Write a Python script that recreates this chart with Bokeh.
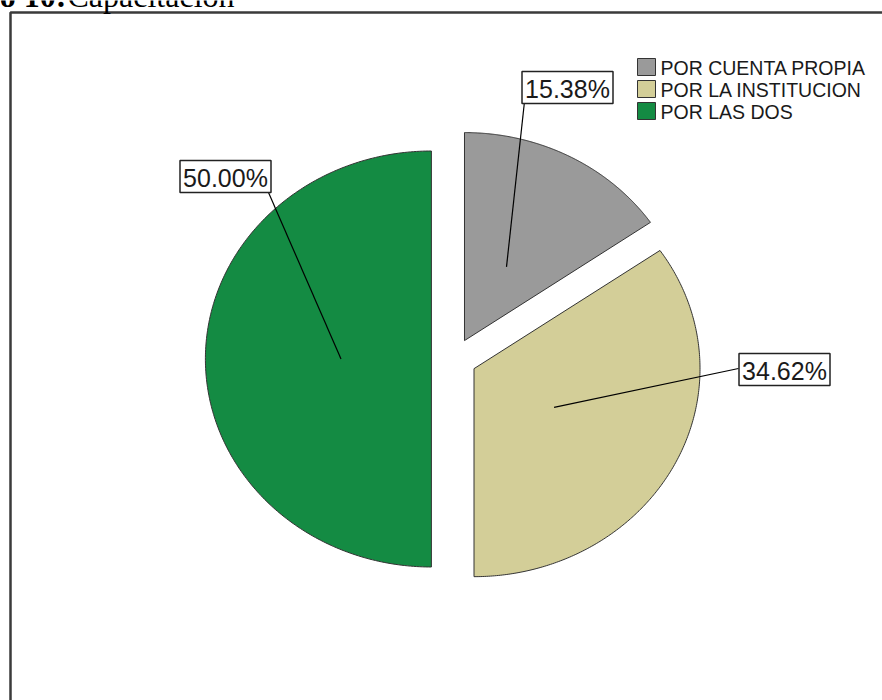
import numpy as np
from bokeh.plotting import figure
from bokeh.models import Range1d, ColumnDataSource
from bokeh.core.properties import value
from bokeh.embed import file_html
from bokeh.resources import INLINE

# ---- data ----
categories = ["POR CUENTA PROPIA", "POR LA INSTITUCION", "POR LAS DOS"]
percentages = [15.38, 34.62, 50.00]
colors = ["#9a9a9a", "#d3ce98", "#148b43"]
title_bold = "Gráfico 10:"
title_text = "Capacitación"

# ---- layout constants (pixel space) ----
W, H = 882, 700
CX, CY = 453.5, 358.5          # pie centre
RX, RY = 226, 208              # pie radii (image is slightly stretched)
EXPLODE = 0.10                 # explode offset as fraction of radius
ANCHOR = 0.40                  # label-line anchor as fraction of radius
BOX_W, BOX_H = 91, 32
box_centers = [(567, 87), (784, 369), (225, 176)]
line_starts = [(524, 101), (738, 368), (268, 192)]

p = figure(width=W, height=H, x_range=Range1d(0, W), y_range=Range1d(H, 0),
           output_backend="svg", toolbar_location=None, min_border=0,
           x_axis_location=None, y_axis_location=None,
           outline_line_color=None, background_fill_color="white")
p.grid.visible = False

# frame
p.line(x=[10, 10, W], y=[H, 12, 12], line_color="#3a3a3a", line_width=2.5)

# title (cut off at the top, as in the source)
TY = -5
p.text(x=[66], y=[TY], text=[title_bold], text_align="right", text_baseline="alphabetic",
       text_font=value("Liberation Serif"), text_font_style="bold",
       text_font_size="32px", text_color="black")
p.text(x=[67], y=[TY], text=[title_text], text_align="left", text_baseline="alphabetic",
       text_font=value("Liberation Serif"), text_font_size="32px", text_color="black")

# slices
total = sum(percentages)
start = np.pi / 2
xs, ys, ax, ay = [], [], [], []
for pct in percentages:
    sweep = 2 * np.pi * pct / total
    end = start - sweep
    mid = (start + end) / 2
    ox = CX + EXPLODE * RX * np.cos(mid)
    oy = CY - EXPLODE * RY * np.sin(mid)
    t = np.linspace(start, end, 240)
    xs.append([ox] + list(ox + RX * np.cos(t)) + [ox])
    ys.append([oy] + list(oy - RY * np.sin(t)) + [oy])
    ax.append(ox + ANCHOR * RX * np.cos(mid))
    ay.append(oy - ANCHOR * RY * np.sin(mid))
    start = end

src = ColumnDataSource(dict(xs=xs, ys=ys, color=colors, cat=categories))
p.patches("xs", "ys", source=src, fill_color="color", line_color="#333333", line_width=1)

# label lines
p.segment(x0=[s[0] for s in line_starts], y0=[s[1] for s in line_starts],
          x1=ax, y1=ay, line_color="black", line_width=1.2)

# label boxes + texts
labels = [f"{v:.2f}%" for v in percentages]
p.rect(x=[b[0] for b in box_centers], y=[b[1] for b in box_centers],
       width=BOX_W, height=BOX_H, fill_color="white", line_color="#222222", line_width=1.5)
p.text(x=[b[0] for b in box_centers], y=[b[1] + 1 for b in box_centers], text=labels,
       text_align="center", text_baseline="middle",
       text_font=value("Liberation Sans"), text_font_size="25px", text_color="#1a1a1a")

# legend
lx, ly0, step = 646, 66.5, 22
p.rect(x=[lx] * 3, y=[ly0 + i * step for i in range(3)], width=18, height=17,
       fill_color=colors, line_color="#333333", line_width=1)
p.text(x=[lx + 14] * 3, y=[ly0 + i * step + 1 for i in range(3)], text=categories,
       text_align="left", text_baseline="middle",
       text_font=value("Liberation Sans"), text_font_size="19.5px", text_color="#1a1a1a")

open("out.html", "w").write(file_html(p, INLINE))
